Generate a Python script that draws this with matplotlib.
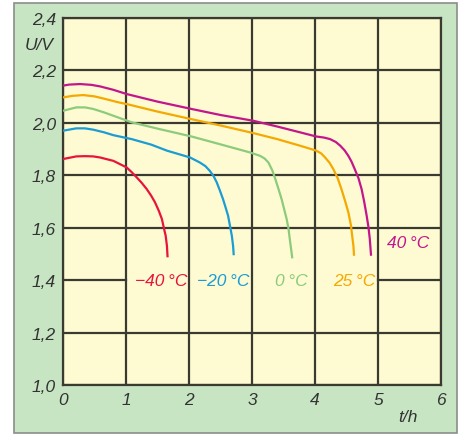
import matplotlib
matplotlib.use("Agg")
import matplotlib.pyplot as plt
from matplotlib.patches import Rectangle

# ---- data ----
x_40 = [0, 0.1, 0.27, 0.45, 0.59, 0.8, 1.01, 1.5, 2.04, 2.5, 3.02, 3.4, 3.76, 4.02, 4.14, 4.24, 4.33, 4.40, 4.47, 4.53, 4.58, 4.63, 4.69, 4.74, 4.78, 4.82, 4.85, 4.87, 4.89]
y_40 = [2.142, 2.146, 2.148, 2.145, 2.139, 2.126, 2.11, 2.081, 2.053, 2.03, 2.008, 1.986, 1.964, 1.948, 1.944, 1.938, 1.927, 1.913, 1.895, 1.874, 1.852, 1.824, 1.789, 1.747, 1.70, 1.646, 1.60, 1.556, 1.493]

x_25 = [0, 0.15, 0.32, 0.5, 0.64, 0.85, 1.04, 1.5, 2.04, 2.5, 3.02, 3.4, 3.76, 4.02, 4.10, 4.16, 4.23, 4.29, 4.36, 4.42, 4.48, 4.53, 4.57, 4.59, 4.61, 4.62]
y_25 = [2.097, 2.103, 2.106, 2.101, 2.093, 2.08, 2.07, 2.043, 2.014, 1.99, 1.961, 1.938, 1.913, 1.894, 1.883, 1.868, 1.848, 1.824, 1.789, 1.747, 1.70, 1.658, 1.61, 1.569, 1.53, 1.493]

x_0 = [0, 0.21, 0.35, 0.48, 0.65, 0.8, 1.09, 1.5, 2.04, 2.5, 2.97, 3.13, 3.2, 3.26, 3.32, 3.37, 3.42, 3.47, 3.51, 3.55, 3.58, 3.60, 3.62, 3.64]
y_0 = [2.046, 2.059, 2.059, 2.053, 2.04, 2.027, 2.002, 1.978, 1.948, 1.918, 1.887, 1.874, 1.864, 1.849, 1.82, 1.786, 1.748, 1.709, 1.671, 1.633, 1.595, 1.556, 1.52, 1.483]

x_m20 = [0, 0.21, 0.35, 0.48, 0.65, 0.8, 1.09, 1.4, 1.65, 2.016, 2.17, 2.26, 2.33, 2.39, 2.44, 2.49, 2.54, 2.58, 2.62, 2.65, 2.68, 2.70, 2.71]
y_m20 = [1.970, 1.979, 1.979, 1.974, 1.964, 1.953, 1.938, 1.917, 1.894, 1.868, 1.849, 1.835, 1.817, 1.797, 1.773, 1.742, 1.709, 1.678, 1.646, 1.608, 1.569, 1.53, 1.495]

x_m40 = [0, 0.21, 0.35, 0.48, 0.587, 0.8, 1.01, 1.09, 1.17, 1.25, 1.33, 1.40, 1.46, 1.52, 1.57, 1.60, 1.63, 1.65, 1.66]
y_m40 = [1.862, 1.872, 1.873, 1.872, 1.868, 1.855, 1.830, 1.812, 1.792, 1.771, 1.747, 1.722, 1.697, 1.665, 1.633, 1.60, 1.569, 1.53, 1.487]

labels = ["40\u2009°C", "25\u2009°C", "0\u2009°C", "\u221220\u2009°C", "\u221240\u2009°C"]
colors = ["#c4168c", "#f5a800", "#8ccb7c", "#1b9cd2", "#e8143c"]
label_pos = [(5.48, 1.545), (4.62, 1.4), (3.62, 1.4), (2.54, 1.4), (1.56, 1.4)]

xticks = [0, 1, 2, 3, 4, 5, 6]
xticklabels = ["0", "1", "2", "3", "4", "5", "6"]
yticks = [1.0, 1.2, 1.4, 1.6, 1.8, 2.0, 2.2, 2.4]
yticklabels = ["1,0", "1,2", "1,4", "1,6", "1,8", "2,0", "2,2", "2,4"]

FONT = ["Liberation Sans", "DejaVu Sans"]

# ---- figure ----
fig = plt.figure(figsize=(4.64, 4.35), dpi=100, facecolor="white")
W, H = 464, 435
fig.patches.append(Rectangle((14 / W, 1.5 / H), (457 - 14) / W, (431 - 1.5) / H,
                             transform=fig.transFigure, facecolor="#c8e5c3",
                             edgecolor="#8a8f8a", linewidth=1.2, zorder=-10))

ax = fig.add_axes([63 / W, (435 - 386) / H, (441 - 63) / W, (386 - 19) / H])
ax.set_zorder(5)
ax.set_facecolor("#fefbd3")
ax.set_xlim(0, 6)
ax.set_ylim(1.0, 2.4)

gridc = "#3a3a30"
for xv in xticks:
    ax.axvline(xv, color=gridc, lw=1.6, zorder=1)
for yv in yticks:
    if yv == 1.4:
        # the line is interrupted where the temperature labels sit
        ax.plot([0, 1], [yv, yv], color=gridc, lw=1.6, zorder=1)
        ax.plot([5, 6], [yv, yv], color=gridc, lw=1.6, zorder=1)
    else:
        ax.axhline(yv, color=gridc, lw=1.6, zorder=1)
for s in ax.spines.values():
    s.set_color(gridc)
    s.set_linewidth(1.6)

series = [(x_40, y_40), (x_25, y_25), (x_0, y_0), (x_m20, y_m20), (x_m40, y_m40)]
for (xs, ys), c in zip(series, colors):
    ax.plot(xs, ys, color=c, lw=1.6, zorder=3, solid_capstyle="butt",
            solid_joinstyle="round")

for lab, c, (lx, ly) in zip(labels, colors, label_pos):
    ax.text(lx, ly, lab, color=c, fontsize=12.5, style="italic", ha="center",
            va="center", zorder=4, family=FONT)

ax.set_xticks(xticks)
ax.set_xticklabels(xticklabels)
ax.set_yticks(yticks)
ax.set_yticklabels(yticklabels)
ax.tick_params(length=0, pad=5, labelsize=12.5, labelcolor="#333333")
for t in ax.get_xticklabels() + ax.get_yticklabels():
    t.set_fontstyle("italic")
    t.set_family(FONT)

ax.text(-0.37, 2.30, "U/V", fontsize=12.5, style="italic", color="#333333",
        ha="center", va="center", clip_on=False, family=FONT)
ax.text(5.48, 0.88, "t/h", fontsize=12.5, style="italic", color="#333333",
        ha="center", va="center", clip_on=False, family=FONT)

fig.savefig("out.png", dpi=100, facecolor=fig.get_facecolor())
